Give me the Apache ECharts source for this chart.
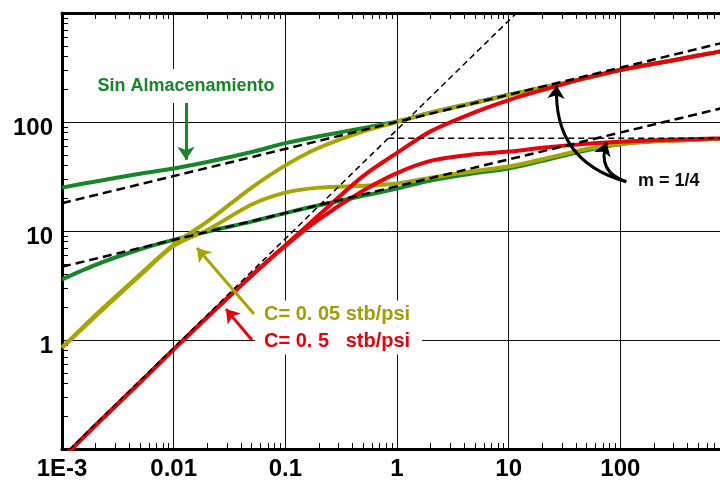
<!DOCTYPE html>
<html>
<head>
<meta charset="utf-8">
<script src="https://cdn.jsdelivr.net/npm/echarts@6/dist/echarts.min.js"></script>
<style>
html,body{margin:0;padding:0;background:#fff;}
#chart{width:720px;height:480px;}
</style>
</head>
<body>
<div id="chart"></div>
<script>
// ---- data ----
const timeValues       = [0.001, 0.002, 0.005, 0.01, 0.02, 0.05, 0.1, 0.2, 0.5, 1, 2, 5, 10, 20, 50, 100, 200, 500, 1000];
const greenPressure    = [25, 28.5, 33.5, 37.5, 43, 53, 64, 74, 88, 101, 122, 151, 178, 206, 253, 300, 342, 407, 464];
const greenDerivative  = [3.6, 4.9, 6.8, 8.3, 9.9, 12.2, 14.6, 17.2, 21.0, 24.5, 29.0, 34.0, 37.5, 44, 55, 62.5, 66.5, 69, 70.5];
const yellowPressure   = [0.85, 1.7, 4.0, 7.5, 12.2, 25, 40, 58, 82, 100, 122, 150, 177, 205, 253, 300, 342, 407, 464];
const yellowDerivative = [0.85, 1.65, 3.9, 7.3, 10.2, 17.5, 22.5, 25, 26, 27.3, 30.8, 35.5, 39, 45.5, 56.5, 62.8, 66.5, 69, 70.5];
const redPressure      = [0.082, 0.165, 0.41, 0.82, 1.62, 3.9, 7.4, 14, 32, 52, 82, 123, 159, 196, 255, 300, 342, 407, 464];
const redDerivative    = [0.082, 0.165, 0.41, 0.82, 1.62, 3.9, 7.3, 12.8, 23.5, 34, 44, 50.5, 53.5, 58, 63, 65.9, 68, 70, 71];

const upperQuarterSlope = [[0.001, 18], [1000, 559]];
const lowerQuarterSlope = [[0.001, 4.7], [1000, 141]];
const unitSlope         = [[0.001, 0.085], [12, 1020]];
const radialLevel       = [[0.835, 71], [1000, 71]];

const xTickText = {'-3': '1E-3', '-2': '0.01', '-1': '0.1', '0': '1', '1': '10', '2': '100'};
const yTickText = {'0': '1', '1': '10', '2': '100'};

// annotation arrows (data coordinates)
const arrowNoStorage = [[0.0129, 152], [0.0129, 45]];
const arrowC005      = [[0.0524, 1.73], [0.0162, 6.98]];
const arrowC05       = [[0.0502, 1.0], [0.0294, 1.92]];
const arrowM1        = [[113, 28.3], [26.9, 216]];
const arrowM2        = [[113, 28.3], [75.2, 65]];

const GREEN = '#17862a', OLIVE = '#a6a600', RED = '#e8000a';

function minorTicks(fromExp, toExp) {
  const out = [];
  for (let e = fromExp; e < toExp; e++) {
    for (let m = 2; m <= 9; m++) out.push(+(m * Math.pow(10, e)).toPrecision(6));
  }
  return out;
}
const xMinor = minorTicks(-3, 3);
const yMinor = minorTicks(-1, 3);

function pairs(xs, ys) { return xs.map((x, i) => [x, ys[i]]); }
function expOf(v) { return String(Math.round(Math.log10(v))); }

const FONT = '"Liberation Sans", Arial, sans-serif';

function curve(name, ys, color) {
  return {
    name, type: 'line', data: pairs(timeValues, ys), showSymbol: false,
    smooth: 0.3,
    lineStyle: {color, width: 4}, z: 2, silent: true
  };
}
function dashed(name, data, width, dash) {
  return {
    name, type: 'line', data, showSymbol: false, z: 3, silent: true,
    lineStyle: {color: '#000', width, type: dash}
  };
}
function arrow(coords, color, curveness) {
  return {
    type: 'lines', coordinateSystem: 'cartesian2d', z: 4, silent: true,
    symbol: ['none', 'arrow'], symbolSize: 13,
    lineStyle: {color, width: 3, curveness: curveness || 0, opacity: 1},
    data: [{coords}]
  };
}

const chart = echarts.init(document.getElementById('chart'), null, {renderer: 'canvas'});
const xBase = {type: 'log', logBase: 10, min: 0.001, max: 1000, gridIndex: 0};
const yBase = {type: 'log', logBase: 10, min: 0.1, max: 1000, gridIndex: 0};

chart.setOption({
  animation: false,
  backgroundColor: '#fff',
  grid: {left: 62, top: 13, width: 670, height: 436, containLabel: false, outerBoundsMode: 'none'},
  xAxis: [
    Object.assign({}, xBase, {
      position: 'bottom',
      axisLine: {show: true, lineStyle: {color: '#000', width: 3}},
      axisTick: {show: false},
      axisLabel: {show: true, margin: 8, color: '#000', fontSize: 24, fontWeight: 'bold', fontFamily: FONT,
        formatter: v => xTickText[expOf(v)] || ''},
      splitLine: {show: true, lineStyle: {color: '#111', width: 1}}
    }),
    Object.assign({}, xBase, {
      position: 'bottom',
      axisLine: {show: false},
      axisTick: {show: true, inside: true, length: 6, customValues: xMinor, lineStyle: {color: '#000', width: 1}},
      axisLabel: {show: false},
      splitLine: {show: false}
    }),
    Object.assign({}, xBase, {
      position: 'top',
      axisLine: {show: true, lineStyle: {color: '#000', width: 3}},
      axisTick: {show: true, inside: true, length: 6, customValues: xMinor, lineStyle: {color: '#000', width: 1}},
      axisLabel: {show: false},
      splitLine: {show: false}
    })
  ],
  yAxis: [
    Object.assign({}, yBase, {
      position: 'left',
      axisLine: {show: true, lineStyle: {color: '#000', width: 3}},
      axisTick: {show: false},
      axisLabel: {show: true, margin: 9, color: '#000', fontSize: 24, fontWeight: 'bold', fontFamily: FONT,
        verticalAlign: 'top', lineHeight: 12,
        formatter: v => yTickText[expOf(v)] || ''},
      splitLine: {show: true, lineStyle: {color: '#111', width: 1}}
    }),
    Object.assign({}, yBase, {
      position: 'left',
      axisLine: {show: false},
      axisTick: {show: true, inside: true, length: 6, customValues: yMinor, lineStyle: {color: '#000', width: 1}},
      axisLabel: {show: false},
      splitLine: {show: false}
    })
  ],
  series: [
    curve('Sin almacenamiento Δp', greenPressure, GREEN),
    curve('Sin almacenamiento derivada', greenDerivative, GREEN),
    curve('C=0.05 Δp', yellowPressure, OLIVE),
    curve('C=0.05 derivada', yellowDerivative, OLIVE),
    curve('C=0.5 Δp', redPressure, RED),
    curve('C=0.5 derivada', redDerivative, RED),
    dashed('m=1/4 Δp', upperQuarterSlope, 2.5, [9, 5]),
    dashed('m=1/4 derivada', lowerQuarterSlope, 2.5, [9, 5]),
    dashed('m=1', unitSlope, 1.5, [6, 4]),
    dashed('radial', radialLevel, 1.5, [6, 4]),
    arrow(arrowNoStorage, GREEN, 0),
    arrow(arrowC005, OLIVE, 0),
    arrow(arrowC05, RED, 0),
    arrow(arrowM1, '#000', 0.4),
    arrow(arrowM2, '#000', 0.5)
  ],
  graphic: [
    {type: 'text', x: 186, y: 86, z: 100, silent: true,
      style: {text: 'Sin Almacenamiento', fill: GREEN, font: 'bold 18px ' + FONT,
        align: 'center', verticalAlign: 'middle', backgroundColor: '#fff', padding: [8, 4]}},
    {type: 'text', x: 255, y: 314, z: 100, silent: true,
      style: {text: 'C= 0. 05 stb/psi', fill: '#a0a000', font: 'bold 20px ' + FONT,
        align: 'left', verticalAlign: 'middle', backgroundColor: '#fff', padding: [5, 12, 2, 9]}},
    {type: 'text', x: 255, y: 341, z: 100, silent: true,
      style: {text: 'C= 0. 5   stb/psi', fill: RED, font: 'bold 20px ' + FONT,
        align: 'left', verticalAlign: 'middle', backgroundColor: '#fff', padding: [2, 12, 5, 9]}},
    {type: 'text', x: 638, y: 181, z: 100, silent: true,
      style: {text: 'm = 1/4', fill: '#111', font: 'bold 18px ' + FONT,
        align: 'left', verticalAlign: 'middle'}}
  ]
});
</script>
</body>
</html>
